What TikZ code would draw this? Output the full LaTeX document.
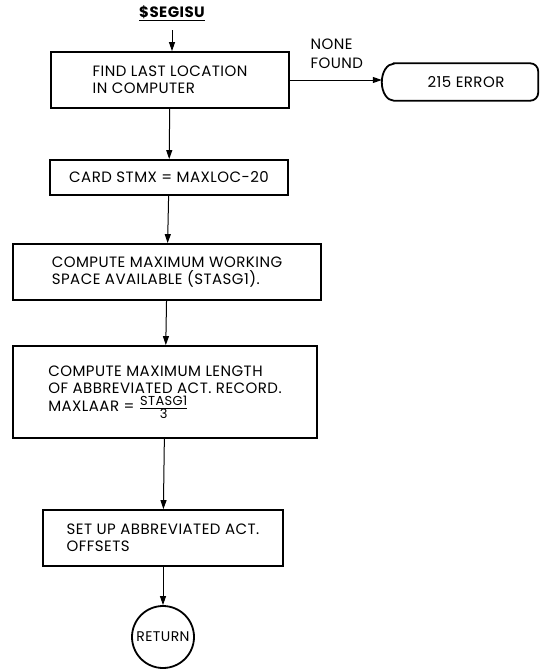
\documentclass[tikz,border=0pt]{standalone}
\usepackage{fontspec}
\setmainfont{Poppins}[LetterSpace=3]
\usetikzlibrary{arrows.meta}
\begin{document}
\begin{tikzpicture}[x=1pt,y=-1pt,
  font=\fontsize{15}{17}\selectfont,
  stepbox/.style={draw, line width=1.8pt, rectangle, inner sep=0pt, align=left},
  arr/.style={line width=1pt, -{Triangle[length=9pt,width=6pt]}},
]
\useasboundingbox (0,0) rectangle (540,669);

% entry label
\node[font=\fontsize{15}{17}\selectfont\bfseries] (title) at (172,13) {\underline{\$SEGISU}};

% process boxes
\node[stepbox, minimum width=238pt, minimum height=56pt] (find) at (170,80)
  {FIND LAST LOCATION\\IN COMPUTER};
\node[stepbox, minimum width=238pt, minimum height=35pt] (card) at (169,177.5)
  {CARD STMX = MAXLOC-20};
\node[stepbox, minimum width=308pt, minimum height=56pt] (work) at (167,272)
  {COMPUTE MAXIMUM WORKING\\SPACE AVAILABLE (STASG1).};
\node[stepbox, minimum width=304pt, minimum height=92pt] (len) at (165,392)
  {COMPUTE MAXIMUM LENGTH\\OF ABBREVIATED ACT. RECORD.\\[1pt]
   MAXLAAR = $\frac{\mbox{\fontsize{13}{14}\selectfont STASG1}}{\mbox{\fontsize{13}{14}\selectfont 3}}$};
\node[stepbox, minimum width=240pt, minimum height=56pt] (setup) at (163,538)
  {SET UP ABBREVIATED ACT.\\OFFSETS};

% return connector
\node[draw, circle, line width=1.8pt, minimum size=62pt, inner sep=0pt,
      font=\fontsize{14}{16}\selectfont] (ret) at (163,637) {RETURN};

% error terminal: flat body with a bulging left end
\node[minimum width=144pt, minimum height=37pt, inner sep=0pt] (err) at (466,82) {215 ERROR};
\draw[line width=1.8pt]
  (err.north west) -- ([xshift=-8pt]err.north east)
  arc[start angle=90, end angle=0, radius=8pt]
  -- ([yshift=8pt]err.south east)
  arc[start angle=0, end angle=-90, radius=8pt]
  -- (err.south west)
  arc[start angle=270, end angle=90, x radius=12pt, y radius=18.5pt]
  -- cycle;

\node[align=left, anchor=west, font=\fontsize{15}{19}\selectfont] (nf) at (307,54) {NONE\\FOUND};

% flow lines
\draw[arr] ([yshift=-6pt]title.south) -- (title.south |- find.north);
\draw[arr] (find.east) -- ([xshift=-12pt]err.west |- find.east);
\draw[arr] (find) -- (card);
\draw[arr] (card) -- (work);
\draw[arr] (work) -- (len);
\draw[arr] (len) -- (setup);
\draw[arr] (setup) -- (ret);
\end{tikzpicture}
\end{document}
